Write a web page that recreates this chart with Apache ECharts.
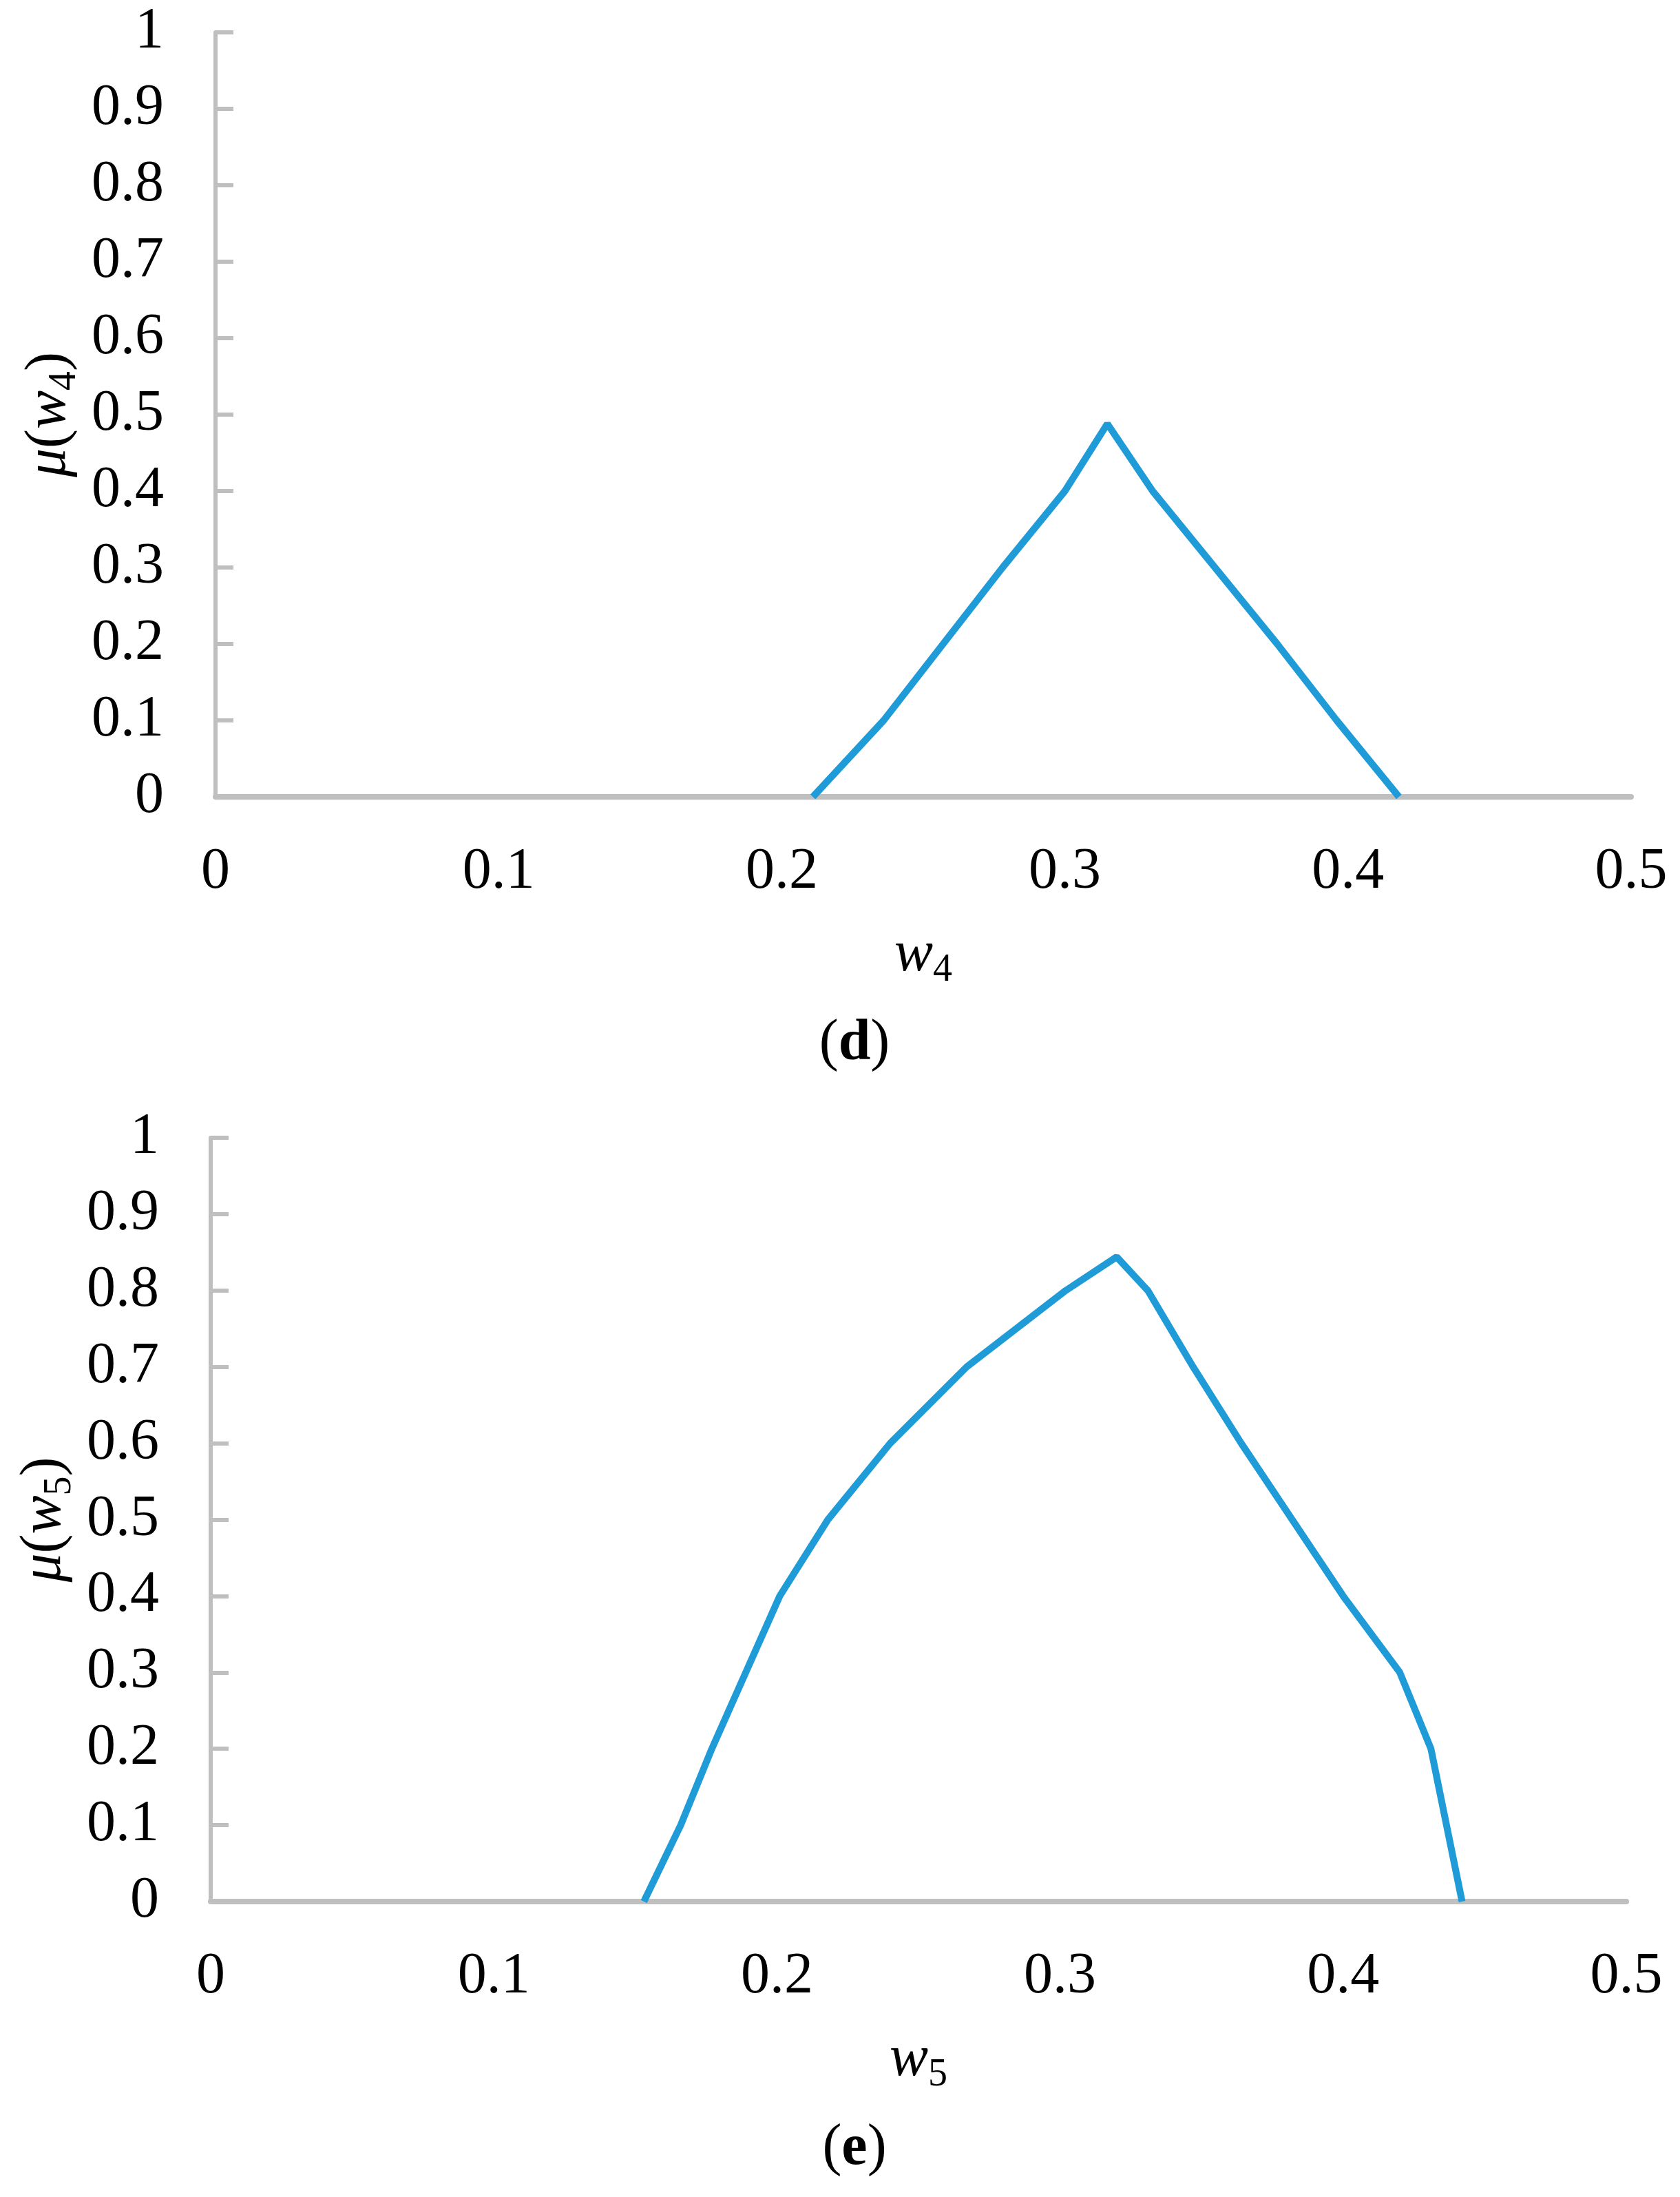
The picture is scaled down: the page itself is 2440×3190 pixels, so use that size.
<!DOCTYPE html>
<html>
<head>
<meta charset="utf-8">
<script src="https://cdn.jsdelivr.net/npm/echarts@6/dist/echarts.min.js"></script>
<style>
  html, body { margin: 0; padding: 0; background: #fff; }
  #chart { width: 2440px; height: 3190px; }
</style>
</head>
<body>
<div id="chart"></div>
<script>
// membership function of w4, panel (d)
var w4X = [0.211, 0.236, 0.257, 0.278, 0.300, 0.315, 0.331, 0.353, 0.375, 0.396, 0.418];
var w4Y = [0, 0.1, 0.2, 0.3, 0.4, 0.488, 0.4, 0.3, 0.2, 0.1, 0];

// membership function of w5, panel (e)
var w5X = [0.153, 0.166, 0.177, 0.189, 0.201, 0.218, 0.240, 0.267, 0.302, 0.320, 0.331, 0.347, 0.364, 0.382, 0.400, 0.420, 0.431, 0.442];
var w5Y = [0, 0.1, 0.2, 0.3, 0.4, 0.5, 0.6, 0.7, 0.8, 0.844, 0.8, 0.7, 0.6, 0.5, 0.4, 0.3, 0.2, 0];

var xTicks = [0, 0.1, 0.2, 0.3, 0.4, 0.5];
var yTicks = [0, 0.1, 0.2, 0.3, 0.4, 0.5, 0.6, 0.7, 0.8, 0.9, 1];
var panelNames = ['d', 'e'];

var FONT = '"Liberation Serif", "DejaVu Serif", serif';
var GREY = '#BFBFBF';
var BLUE = '#1F9BD7';

function pairs(xs, ys) {
  var out = [];
  for (var i = 0; i < xs.length; i++) out.push([xs[i], ys[i]]);
  return out;
}

var richName = {
  n: { fontFamily: FONT, fontSize: 84, color: '#000' },
  i: { fontFamily: FONT, fontSize: 84, fontStyle: 'italic', color: '#000' },
  s: { fontFamily: FONT, fontSize: 56, color: '#000', verticalAlign: 'bottom', padding: [44, 0, 0, 0] }
};

function xAxisOpt(idx, sub) {
  return {
    type: 'value',
    gridIndex: idx,
    min: xTicks[0],
    max: xTicks[xTicks.length - 1],
    interval: 0.1,
    axisLine: { lineStyle: { color: GREY, width: 8 } },
    axisTick: { show: false },
    splitLine: { show: false },
    axisLabel: {
      fontFamily: FONT, fontSize: 84, color: '#000', margin: 68,
      formatter: function(v) { return String(+v.toFixed(1)); }
    },
    name: '{i|w}{s|' + sub + '}',
    nameLocation: 'middle',
    nameGap: 180,
    nameTextStyle: { rich: richName }
  };
}

function yAxisOpt(idx, sub) {
  return {
    type: 'value',
    gridIndex: idx,
    min: yTicks[0],
    max: yTicks[yTicks.length - 1],
    interval: 0.1,
    axisLine: { show: true, lineStyle: { color: GREY, width: 6 } },
    axisTick: { show: true, inside: true, length: 26, lineStyle: { color: GREY, width: 6 } },
    splitLine: { show: false },
    axisLabel: {
      fontFamily: FONT, fontSize: 84, color: '#000', margin: 75,
      formatter: function(v) { return String(+v.toFixed(1)); }
    },
    name: '{i|μ}{n|(}{i|w}{s|' + sub + '}{n|)}',
    nameLocation: 'middle',
    nameGap: 190,
    nameTextStyle: { rich: richName }
  };
}

var myChart = echarts.init(document.getElementById('chart'), null, { renderer: 'canvas' });

var Options = {
  animation: false,
  backgroundColor: '#fff',
  grid: [
    { left: 313, top: 47, width: 2056, height: 1110 },
    { left: 306, top: 1652, width: 2056, height: 1109 }
  ],
  xAxis: [xAxisOpt(0, '4'), xAxisOpt(1, '5')],
  yAxis: [yAxisOpt(0, '4'), yAxisOpt(1, '5')],
  graphic: [],
  series: [
    {
      type: 'line', xAxisIndex: 0, yAxisIndex: 0,
      data: pairs(w4X, w4Y),
      showSymbol: false, symbol: 'none',
      lineStyle: { color: BLUE, width: 10 },
      z: 5
    },
    {
      type: 'line', xAxisIndex: 1, yAxisIndex: 1,
      data: pairs(w5X, w5Y),
      showSymbol: false, symbol: 'none',
      lineStyle: { color: BLUE, width: 10 },
      z: 5
    }
  ]
};

// panel captions (d) and (e)
var captionY = [1516, 3120];
for (var k = 0; k < panelNames.length; k++) {
  Options.graphic.push({
    type: 'text',
    x: 1241,
    y: captionY[k],
    style: {
      text: '{n|(}{b|' + panelNames[k] + '}{n|)}',
      align: 'center',
      verticalAlign: 'middle',
      rich: {
        n: { fontFamily: FONT, fontSize: 84, fill: '#000' },
        b: { fontFamily: FONT, fontSize: 84, fontWeight: 'bold', fill: '#000' }
      }
    }
  });
}

myChart.setOption(Options);
</script>
</body>
</html>
